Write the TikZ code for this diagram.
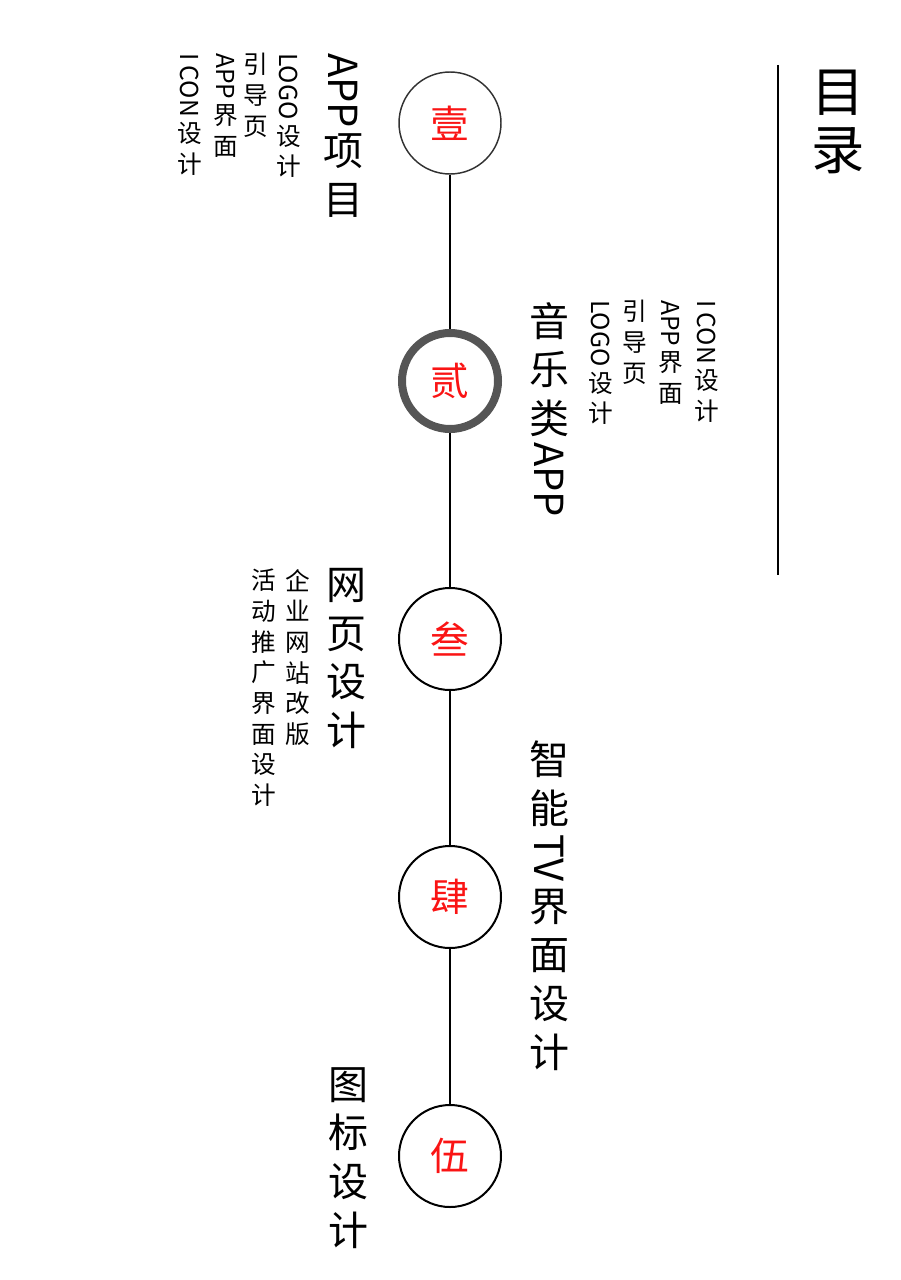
\documentclass[tikz,border=0pt]{standalone}
\usepackage{fontspec}
\setmainfont{Noto Sans CJK SC}
\usepackage{graphicx}

\definecolor{numred}{RGB}{250,20,20}
\definecolor{ringgray}{RGB}{85,85,85}
\definecolor{thingray}{RGB}{50,50,50}

% latin words stand turned inside the vertical columns
\newcommand\lat[1]{\rotatebox[origin=c]{-90}{#1}}
\newcommand\bigcolfont{\fontsize{30}{36.5}\selectfont\setlength{\lineskip}{4pt}}
\newcommand\smallcolfont{\fontsize{18.5}{23}\selectfont\setlength{\lineskip}{4pt}}
\newcommand\titlefont{\fontsize{40}{43}\selectfont\setlength{\lineskip}{5pt}}

\begin{document}
\begin{tikzpicture}[x=0.75pt, y=-0.75pt,
    ring/.style={circle, draw=black, line width=1.5pt, minimum size=76.5pt, inner sep=0pt,
      text=numred, font=\fontsize{29}{29}\selectfont},
    link/.style={line width=1.5pt},
    bigcol/.style={anchor=north, inner sep=0pt, align=center, font=\bigcolfont},
    smallcol/.style={anchor=north, inner sep=0pt, align=center, font=\smallcolfont},
    titlecol/.style={anchor=north, inner sep=0pt, align=center, font=\titlefont}]

    % page frame
    \useasboundingbox (0,0) rectangle (900,1280);

    % title and its rule
    \node[titlecol] (mulu) at (838,70) {目\\录};
    \coordinate (ruletop) at (778,65);
    \coordinate (rulebot) at (778,575);
    \draw[line width=0.9pt] (ruletop) -- (rulebot);

    % the five rings on the time line
    \node[ring, draw=thingray, line width=1.1pt] (c1) at (450,123) {壹};
    \node[ring, draw=ringgray, line width=6pt, minimum size=72pt] (c2) at (450,381) {贰};
    \node[ring] (c3) at (450,639) {叁};
    \node[ring] (c4) at (450,897) {肆};
    \node[ring] (c5) at (450,1156) {伍};

    \foreach \a/\b in {c1/c2, c2/c3, c3/c4, c4/c5}
      \draw[link] (\a) -- (\b);

    % part one
    \node[bigcol] (app) at (343,53) {\lat{APP}\\项\\目};
    \node[smallcol] (app1) at (289,53) {\lat{LOGO}\\设\\计};
    \node[smallcol] (app2) at (256,53) {引\\导\\页};
    \node[smallcol] (app3) at (226,53) {\lat{APP}\\界\\面};
    \node[smallcol] (app4) at (190,53) {\lat{I CON}\\设\\计};

    % part two
    \node[bigcol] (music) at (549,302) {音\\乐\\类\\\lat{APP}};
    \node[smallcol] (music1) at (707,300) {\lat{I CON}\\设\\计};
    \node[smallcol] (music2) at (671,300) {\lat{APP}\\界\\面};
    \node[smallcol] (music3) at (635,300) {引\\导\\页};
    \node[smallcol] (music4) at (601,300) {\lat{LOGO}\\设\\计};

    % part three
    \node[bigcol] (web) at (346,568) {网\\页\\设\\计};
    \node[smallcol] (web1) at (298,569) {企\\业\\网\\站\\改\\版};
    \node[smallcol] (web2) at (264,569) {活\\动\\推\\广\\界\\面\\设\\计};

    % part four
    \node[bigcol] (tv) at (549,741) {智\\能\\\lat{TV}\\界\\面\\设\\计};

    % part five
    \node[bigcol] (icon) at (348,1067) {图\\标\\设\\计};

\end{tikzpicture}
\end{document}
